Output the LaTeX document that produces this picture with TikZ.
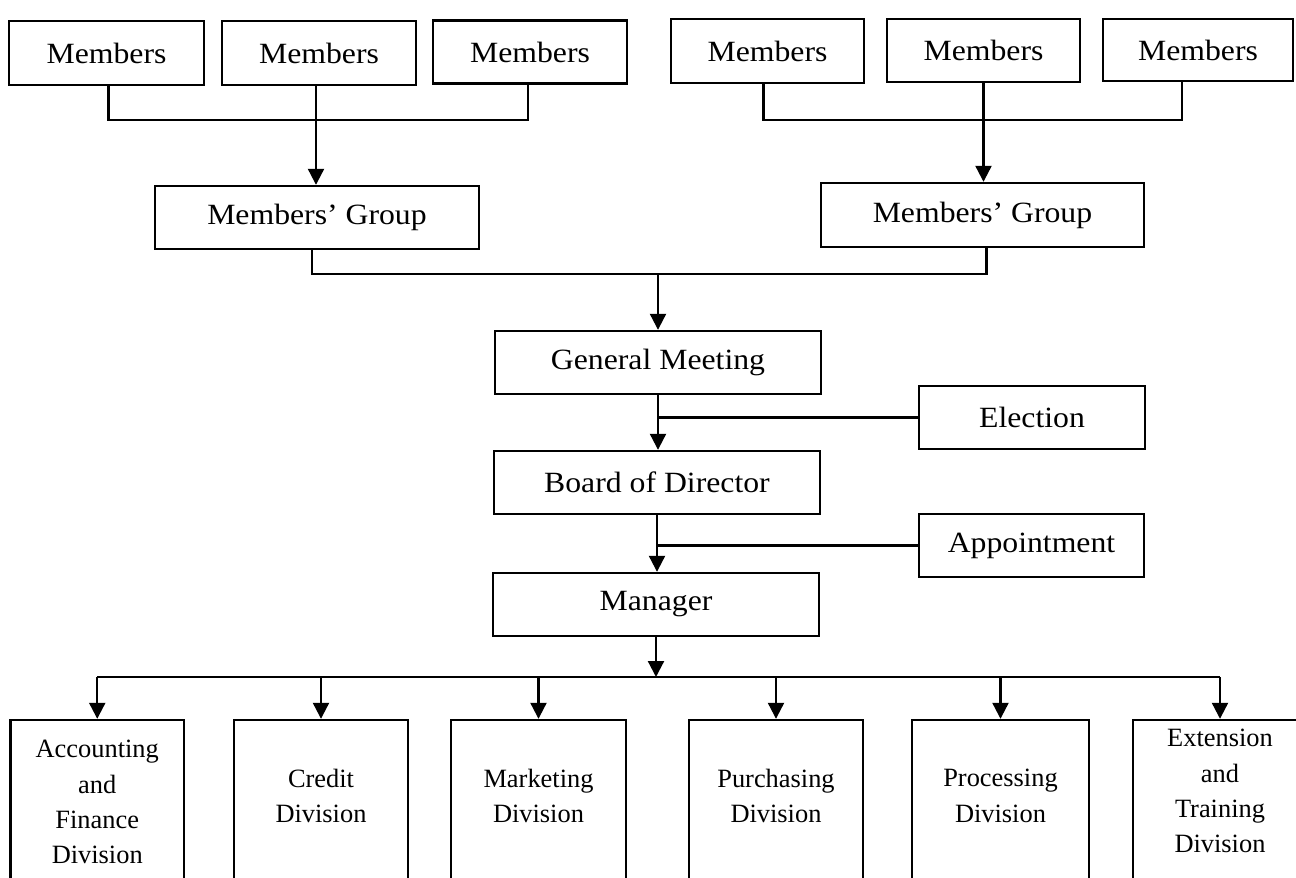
\documentclass[tikz,border=0pt]{standalone}
\usepackage{fontspec}
\setmainfont{Liberation Serif}
\newfontfamily\widef[FakeStretch=1.08]{Liberation Serif}
\usetikzlibrary{arrows.meta}
\begin{document}
\begin{tikzpicture}[x=1bp,y=-1bp,
  box/.style={draw=black,line width=2.4bp,inner sep=0pt,
    font=\widef\fontsize{29.5}{35}\selectfont},
  divbox/.style={draw=black,line width=2.4bp,inner sep=0pt,minimum height=180bp},
  divtext/.style={inner sep=0pt,anchor=north,align=center,
    font=\fontsize{26.5}{35.5}\selectfont},
  conn/.style={line width=2.2bp},
  arr/.style={line width=2.2bp,-{Triangle[width=16bp,length=16bp]}}]
\useasboundingbox (0,0) rectangle (1296,878);
\clip (0,0) rectangle (1296,878);
% top members
\node[box,minimum width=195bp,minimum height=64bp] (m1) at (106.5,53) {Members};
\node[box,minimum width=194bp,minimum height=64bp] (m2) at (319,53) {Members};
\node[box,minimum width=194bp,minimum height=63bp] (m3) at (530,52) {Members};
\node[box,minimum width=193bp,minimum height=64bp] (m4) at (767.5,51) {Members};
\node[box,minimum width=193bp,minimum height=63bp] (m5) at (983.5,50.5) {Members};
\node[box,minimum width=190bp,minimum height=62bp] (m6) at (1198,50) {Members};
% groups
\node[box,minimum width=324bp,minimum height=63bp] (g1) at (317,217.5) {Members’ Group};
\node[box,minimum width=323bp,minimum height=64bp] (g2) at (982.5,215) {Members’ Group};
% central chain
\node[box,minimum width=326bp,minimum height=63bp] (gm) at (658,362.5) {General Meeting};
\node[box,minimum width=326bp,minimum height=63bp] (bd) at (657,482.5) {Board of Director};
\node[box,minimum width=326bp,minimum height=63bp] (mg) at (656,604.5) {Manager};
\node[box,minimum width=226bp,minimum height=63bp] (el) at (1032,417.5) {Election};
\node[box,minimum width=225bp,minimum height=63bp] (ap) at (1031.5,545.5) {Appointment};
% divisions
\node[divbox,minimum width=173.5bp] (d1) at (97.25,810) {};
\node[divbox,minimum width=174bp] (d2) at (321,810) {};
\node[divbox,minimum width=175bp] (d3) at (538.5,810) {};
\node[divbox,minimum width=174bp] (d4) at (776,810) {};
\node[divbox,minimum width=177bp] (d5) at (1000.5,810) {};
\node[divbox,minimum width=174bp] (d6) at (1220,810) {};
\node[divtext] (t1) at (97.25,740) {Accounting\\and\\Finance\\Division};
\node[divtext] (t2) at (321,769) {Credit\\Division};
\node[divtext] (t3) at (538.5,769) {Marketing\\Division};
\node[divtext] (t4) at (776,769) {Purchasing\\Division};
\node[divtext] (t5) at (1000.5,769) {Processing\\Division};
\node[divtext] (t6) at (1220,729) {Extension\\and\\Training\\Division};
% bus levels
\coordinate (bus1) at (0,120);
\coordinate (bus2) at (0,274);
\coordinate (bus3) at (0,677);
% members -> groups
\draw[conn] ([xshift=2bp]m1.south) -- ([xshift=2bp]m1.south |- bus1) -- ([xshift=-2bp]m3.south |- bus1) -- ([xshift=-2bp]m3.south);
\draw[arr] ([xshift=-3bp]m2.south) -- ([xshift=-3bp]m2.south |- g1.north);
\draw[conn] ([xshift=-4bp]m4.south) -- ([xshift=-4bp]m4.south |- bus1) -- ([xshift=-16bp]m6.south |- bus1) -- ([xshift=-16bp]m6.south);
\draw[arr] (m5.south) -- (m5.south |- g2.north);
% groups -> general meeting
\draw[conn] ([xshift=-5bp]g1.south) -- ([xshift=-5bp]g1.south |- bus2) -- ([xshift=4bp]g2.south |- bus2) -- ([xshift=4bp]g2.south);
\draw[arr] (gm.north |- bus2) -- (gm.north);
% chain
\draw[arr] (gm.south) -- (gm.south |- bd.north);
\draw[conn] (el.west) -- (gm.south |- el.west);
\draw[arr] (bd.south) -- (bd.south |- mg.north);
\draw[conn] (ap.west) -- (bd.south |- ap.west);
\draw[arr] (mg.south) -- (mg.south |- bus3);
% divisions bus
\draw[conn] (d1.north |- bus3) -- (d6.north |- bus3);
\foreach \d in {d1,d2,d3,d4,d5,d6}{
  \draw[arr] (\d.north |- bus3) -- (\d.north);
}
\end{tikzpicture}
\end{document}
